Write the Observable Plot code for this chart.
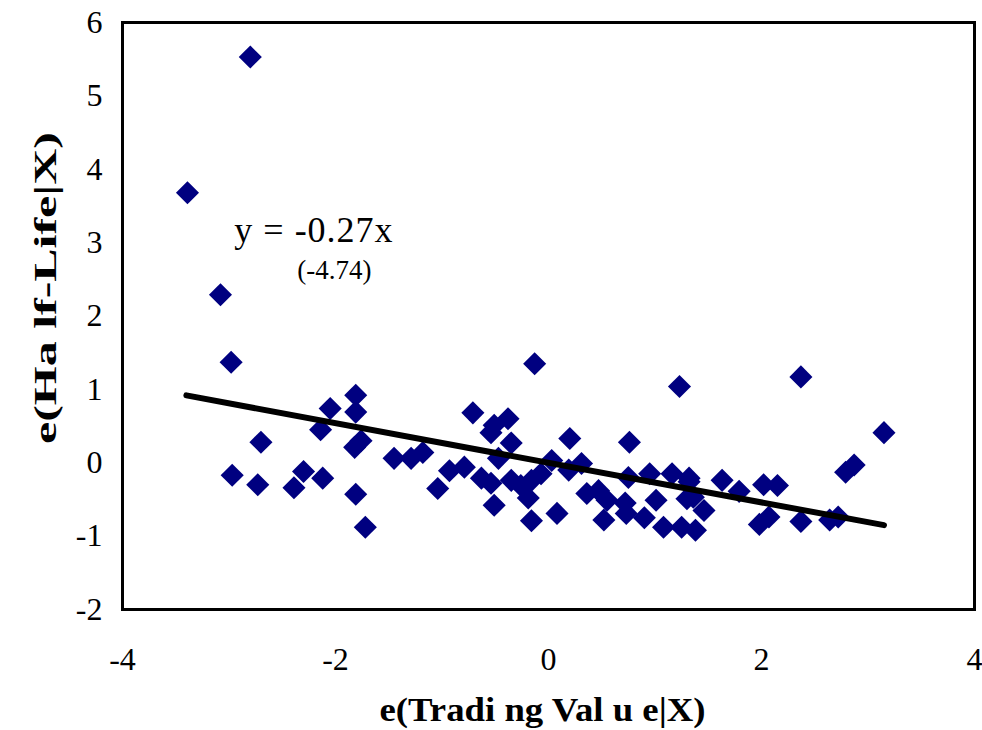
<!DOCTYPE html>
<html>
<head>
<meta charset="utf-8">
<script src="https://cdn.jsdelivr.net/npm/d3@7"></script>
<script src="https://cdn.jsdelivr.net/npm/@observablehq/plot@0.6"></script>
<style>
  html, body { margin: 0; padding: 0; background: #fff; }
  #chart { width: 982px; height: 730px; }
</style>
</head>
<body>
<div id="chart"></div>
<script>
// Residuals
const residTradingValue = [
  -2.80, -3.39, -3.08, -2.98, -2.97, -2.70, -2.73, -2.39, -2.30, -2.14,
  -2.12, -2.05, -1.81, -1.81, -1.82, -1.76, -1.81, -1.72, -1.45, -1.29,
  -1.18, -1.04, -0.93, -0.79, -0.71, -0.63, -0.54, -0.51, -0.38, -0.54,
  -0.35, -0.47, -0.51, -0.35, -0.26, -0.16, -0.07, 0.03, -0.19, -0.16,
  0.08, 0.19, 0.20, -0.13, 0.31, 0.75, 0.95, 1.16, 1.32, 0.36,
  0.47, 0.55, 0.72, 1.01, 1.30, 0.52, 0.73, 0.90, 1.08, 1.25,
  0.76, 1.23, 1.63, 1.79, 2.02, 2.15, 1.32, 1.36, 1.46, 1.38,
  1.98, 2.07, 2.37, 2.64, 2.72, 2.37, 3.15, 2.79, 2.87
];
const residHalfLife = [
  5.53, 3.68, 2.29, 1.37, -0.17, 0.28, -0.30, -0.34, -0.12, 0.45,
  -0.21, 0.74, 0.92, 0.69, 0.21, 0.30, -0.43, -0.88, 0.06, 0.06,
  0.14, -0.35, -0.11, -0.06, 0.68, -0.21, -0.28, 0.51, 0.60, 0.41,
  0.27, 0.06, -0.58, -0.24, -0.31, -0.24, -0.15, 0.03, -0.48, -0.79,
  -0.69, -0.10, 0.33, 1.35, -0.01, -0.20, -0.15, -0.15, -0.21, -0.42,
  -0.38, -0.51, -0.55, -0.51, -0.49, -0.78, -0.69, -0.75, -0.88, -0.88,
  0.28, 1.04, -0.24, -0.39, -0.30, -0.31, -0.26, -0.47, -0.65, -0.92,
  -0.84, -0.74, -0.80, -0.78, -0.74, 1.17, 0.41, -0.13, -0.03
];

const xTicks = [-4, -2, 0, 2, 4];
const yTicks = [-2, -1, 0, 1, 2, 3, 4, 5, 6];
const slope = -0.27;
const fitRange = [-3.40, 3.15];
const equationText = "y = -0.27x";
const tStatText = "(-4.74)";
const xLabel = "e(Tradi ng Val u e|X)";
const yLabel = "e(Ha lf-Life|X)";

const points = residTradingValue.map((x, i) => ({x, y: residHalfLife[i]}));
const fitLine = fitRange.map(x => ({x, y: slope * x}));
const fmt = d => String(d);

const chart = Plot.plot({
  width: 982,
  height: 730,
  marginLeft: 122,
  marginRight: 8,
  marginTop: 22,
  marginBottom: 121,
  style: {fontFamily: "'Liberation Serif', 'Times New Roman', serif", background: "#fff", color: "#000"},
  x: {domain: [-4, 4]},
  y: {domain: [-2, 6]},
  marks: [
    Plot.frame({stroke: "#000", strokeWidth: 3}),
    Plot.axisX({ticks: xTicks, tickFormat: fmt, tickSize: 0, tickPadding: 38, fontSize: 32, label: null}),
    Plot.axisY({ticks: yTicks, tickFormat: fmt, tickSize: 0, tickPadding: 20, fontSize: 32, label: null}),
    Plot.text([xLabel], {frameAnchor: "bottom", dx: -6, dy: 111, text: d => d, fontSize: 34, fontWeight: "bold", fill: "#000"}),
    Plot.text([yLabel], {frameAnchor: "left", textAnchor: "middle", dx: -77, dy: -28, rotate: -90, text: d => d, fontSize: 32, fontWeight: "bold", fill: "#000"}),
    Plot.dot(points, {x: "x", y: "y", symbol: "diamond2", r: 10.4, fill: "#000080", stroke: "none"}),
    Plot.line(fitLine, {x: "x", y: "y", stroke: "#000", strokeWidth: 6}),
    Plot.text([equationText], {x: -2.95, y: 3.17, text: d => d, textAnchor: "start", fontSize: 36, fill: "#000"}),
    Plot.text([tStatText], {x: -2.01, y: 2.62, text: d => d, fontSize: 27, fill: "#000"})
  ]
});
// the reference's labels are drawn stretched along their length
chart.querySelectorAll("text").forEach(t => {
  const stretch = (len) => { t.setAttribute("textLength", len); t.setAttribute("lengthAdjust", "spacingAndGlyphs"); };
  if (t.textContent === yLabel) stretch(312);
  if (t.textContent === xLabel) stretch(326);
  if (t.textContent === equationText) t.style.letterSpacing = "1px";
});
document.getElementById("chart").appendChild(chart);
</script>
</body>
</html>
